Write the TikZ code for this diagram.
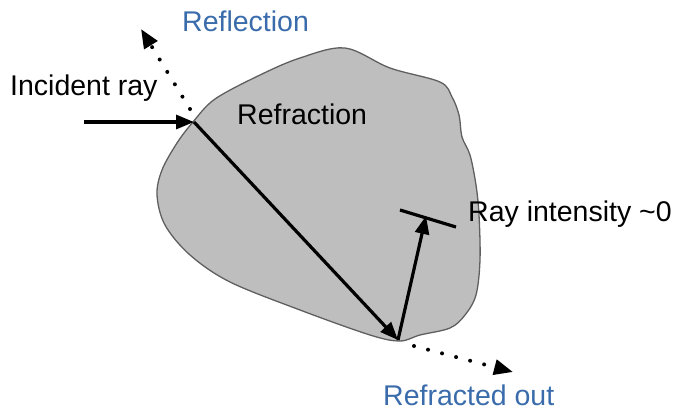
\documentclass[tikz,border=0pt]{standalone}
\usepackage{fontspec}
\setmainfont{Liberation Sans}
\usetikzlibrary{arrows.meta}
\definecolor{labelblue}{RGB}{58,108,172}
\definecolor{blobfill}{RGB}{190,190,190}
\definecolor{blobedge}{RGB}{95,95,95}
\begin{document}
\begin{tikzpicture}[x=1pt,y=-1pt,
  ray/.style={line width=3.2pt,-{Triangle[length=18pt,width=14pt]}},
  dotray/.style={line width=4pt,line cap=round,dash pattern=on 0pt off 14.5pt,-{Triangle[length=19pt,width=15pt]}},
  lbl/.style={font=\fontsize{28.5}{31}\selectfont,inner sep=0pt},
  bluelbl/.style={lbl,text=labelblue}]
\useasboundingbox (0,0) rectangle (673,410);
% the body
\draw[blobedge,fill=blobfill,line width=1.3pt] plot[smooth cycle,tension=0.55] coordinates {
  (193,122) (215,99) (260,75) (300,58) (345,48) (390,68) (440,82) (452,97)
  (459,115) (462,137) (470,155) (476,185) (479,215) (480,260) (476,295)
  (465,315) (450,328) (420,335) (400,341) (370,335) (300,310) (230,282)
  (190,255) (165,225) (157,195) (162,170) (177,143)};
% ray end points
\coordinate (src) at (84,122);
\coordinate (entry) at (194,122);
\coordinate (reflTip) at (141,29);
\coordinate (bottom) at (398,340);
\coordinate (fadeTip) at (426,216);
\coordinate (barA) at (400,210);
\coordinate (barB) at (456,227);
\coordinate (outStart) at (414,346);
\coordinate (outTip) at (513,372);
\coordinate (reflStart) at (190,109);
% rays
\draw[ray] (src) -- (entry);
\draw[dotray] (reflStart) -- (reflTip);
\draw[ray] (entry) -- (bottom);
\draw[ray] (bottom) -- (fadeTip);
\draw[line width=3.2pt] (barA) -- (barB);
\draw[dotray] (outStart) -- (outTip);
% labels
\node[bluelbl,anchor=base west] (reflection) at (182,31) {Reflection};
\node[lbl,anchor=base west] (incident) at (10,95) {Incident ray};
\node[lbl,anchor=base west] (refraction) at (237,124) {Refraction};
\node[lbl,anchor=base west] (intensity) at (468,221) {Ray intensity \textasciitilde0};
\node[bluelbl,anchor=base west] (refracted) at (383,405) {Refracted out};
\end{tikzpicture}
\end{document}
